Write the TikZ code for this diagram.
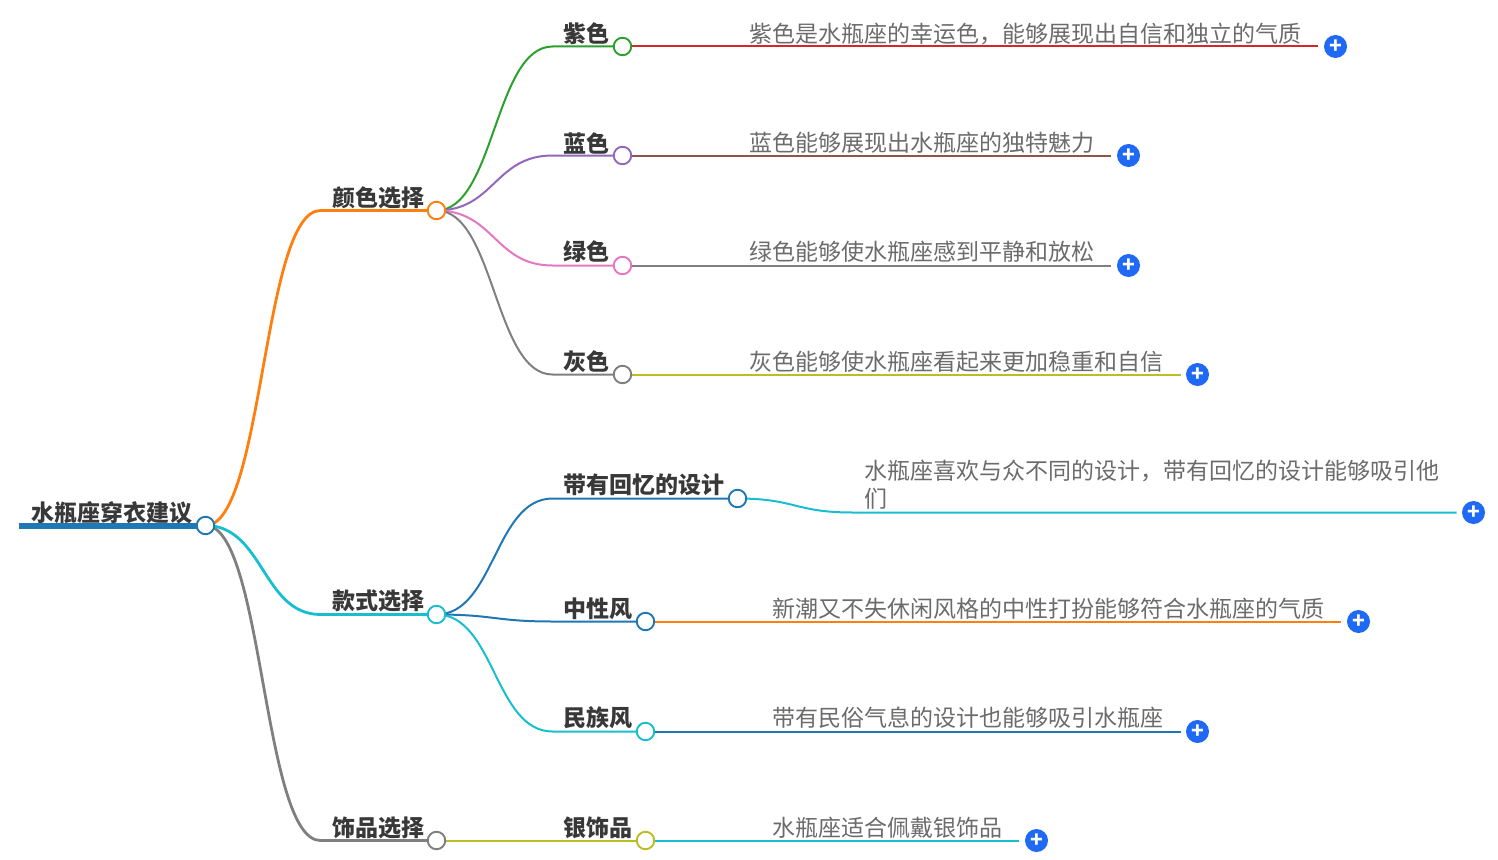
\documentclass[tikz,border=0pt]{standalone}
\usepackage{fontspec}
\setmainfont{Noto Sans CJK SC}
\definecolor{tabblue}{HTML}{1F77B4}
\definecolor{taborange}{HTML}{FF7F0E}
\definecolor{tabgreen}{HTML}{2CA02C}
\definecolor{tabred}{HTML}{D62728}
\definecolor{tabpurple}{HTML}{9467BD}
\definecolor{tabbrown}{HTML}{8C564B}
\definecolor{tabpink}{HTML}{E377C2}
\definecolor{tabgrey}{HTML}{7F7F7F}
\definecolor{tabolive}{HTML}{BCBD22}
\definecolor{tabcyan}{HTML}{17BECF}
\definecolor{plusblue}{HTML}{1F69F5}
\tikzset{
    dot/.style={draw=#1,fill=white,circle,line width=1.9pt,minimum size=17.5pt,inner sep=0pt},
    title/.style={anchor=west,inner sep=0pt,yshift=-0.6pt,font=\fontsize{23pt}{28pt}\selectfont\bfseries,text=black!78},
    detail/.style={anchor=west,inner sep=0pt,yshift=-0.6pt,align=left,font=\fontsize{23pt}{28pt}\selectfont,text=black!58},
    plus/.style={fill=plusblue,circle,minimum size=23pt,inner sep=0pt,text=white,font=\fontsize{21pt}{21pt}\selectfont\bfseries},
    bigline/.style={line width=2.8pt},
    thinline/.style={line width=2pt},
}
\begin{document}
\begin{tikzpicture}[x=1pt,y=-1pt]
        \useasboundingbox (-0.5,-0.5) rectangle (1497.5,858.5);
        %% Bends
        \coordinate (rootstart) at (18,525);
        \coordinate (colorbend) at (320,210);
        \coordinate (stylebend) at (320,614);
        \coordinate (jewelbend) at (320,840);
        \coordinate (purplebend) at (552,46);
        \coordinate (bluebend) at (552,155);
        \coordinate (greenbend) at (552,265);
        \coordinate (greybend) at (552,374);
        \coordinate (memorybend) at (552,498);
        \coordinate (neutralbend) at (552,621);
        \coordinate (folkbend) at (552,731);
        \coordinate (memorytail) at (852,512);
        %% Line ends
        \coordinate (purpleend) at (1317,46);
        \coordinate (blueend) at (1110,155);
        \coordinate (greenend) at (1110,265);
        \coordinate (greyend) at (1180,374);
        \coordinate (memoryend) at (1456,512);
        \coordinate (neutralend) at (1340,621);
        \coordinate (folkend) at (1180,731);
        \coordinate (silverend) at (1018,840);
        %% Circles
        \coordinate (rootc) at (205,525);
        \coordinate (colorc) at (436,210);
        \coordinate (stylec) at (436,614);
        \coordinate (jewelc) at (436,840);
        \coordinate (purplec) at (622,46);
        \coordinate (bluec) at (622,155);
        \coordinate (greenc) at (622,265);
        \coordinate (greyc) at (622,374);
        \coordinate (memoryc) at (737,498);
        \coordinate (neutralc) at (645,621);
        \coordinate (folkc) at (645,731);
        \coordinate (silverc) at (645,840);
        %% Root branches
        \draw[line width=6pt,tabblue] (rootstart) -- (rootc);
        \draw[bigline,taborange] (rootc) .. controls +(58,0) and +(-58,0) .. (colorbend) -- (colorc);
        \draw[bigline,tabgrey] (rootc) .. controls +(58,0) and +(-58,0) .. (jewelbend) -- (jewelc);
        \draw[bigline,tabcyan] (rootc) .. controls +(58,0) and +(-58,0) .. (stylebend) -- (stylec);
        %% Colour branches
        \draw[thinline,tabgreen] (colorc) .. controls +(58,0) and +(-58,0) .. (purplebend) -- (purplec);
        \draw[thinline,tabpurple] (colorc) .. controls +(58,0) and +(-58,0) .. (bluebend) -- (bluec);
        \draw[thinline,tabpink] (colorc) .. controls +(58,0) and +(-58,0) .. (greenbend) -- (greenc);
        \draw[thinline,tabgrey] (colorc) .. controls +(58,0) and +(-58,0) .. (greybend) -- (greyc);
        \draw[thinline,tabred] (purplec) -- (purpleend);
        \draw[thinline,tabbrown] (bluec) -- (blueend);
        \draw[thinline,tabgrey] (greenc) -- (greenend);
        \draw[thinline,tabolive] (greyc) -- (greyend);
        %% Style branches
        \draw[thinline,tabblue] (stylec) .. controls +(58,0) and +(-58,0) .. (memorybend) -- (memoryc);
        \draw[thinline,tabblue] (stylec) .. controls +(58,0) and +(-58,0) .. (neutralbend) -- (neutralc);
        \draw[thinline,tabcyan] (stylec) .. controls +(58,0) and +(-58,0) .. (folkbend) -- (folkc);
        \draw[thinline,tabcyan] (memoryc) .. controls +(58,0) and +(-58,0) .. (memorytail) -- (memoryend);
        \draw[thinline,taborange] (neutralc) -- (neutralend);
        \draw[thinline,tabblue] (folkc) -- (folkend);
        %% Jewellery branch
        \draw[thinline,tabolive] (jewelc) -- (silverc);
        \draw[thinline,tabcyan] (silverc) -- (silverend);
        %% Dots
        \node[dot=tabblue] (rootdot) at (rootc) {};
        \node[dot=taborange] (colordot) at (colorc) {};
        \node[dot=tabcyan] (styledot) at (stylec) {};
        \node[dot=tabgrey] (jeweldot) at (jewelc) {};
        \node[dot=tabgreen] (purpledot) at (purplec) {};
        \node[dot=tabpurple] (bluedot) at (bluec) {};
        \node[dot=tabpink] (greendot) at (greenc) {};
        \node[dot=tabgrey] (greydot) at (greyc) {};
        \node[dot=tabblue] (memorydot) at (memoryc) {};
        \node[dot=tabblue] (neutraldot) at (neutralc) {};
        \node[dot=tabcyan] (folkdot) at (folkc) {};
        \node[dot=tabolive] (silverdot) at (silverc) {};
        %% Titles
        \node[title] (root) at (31,512) {水瓶座穿衣建议};
        \node[title] (color) at (332,197) {颜色选择};
        \node[title] (style) at (332,600) {款式选择};
        \node[title] (jewel) at (332,827) {饰品选择};
        \node[title] (purple) at (563,33) {紫色};
        \node[title] (blue) at (563,142) {蓝色};
        \node[title] (green) at (563,251) {绿色};
        \node[title] (grey) at (563,361) {灰色};
        \node[title] (memory) at (563,484) {带有回忆的设计};
        \node[title] (neutral) at (563,608) {中性风};
        \node[title] (folk) at (563,717) {民族风};
        \node[title] (silver) at (563,827) {银饰品};
        %% Details
        \node[detail] (purpletext) at (749,33) {紫色是水瓶座的幸运色，能够展现出自信和独立的气质};
        \node[detail] (bluetext) at (749,142) {蓝色能够展现出水瓶座的独特魅力};
        \node[detail] (greentext) at (749,251) {绿色能够使水瓶座感到平静和放松};
        \node[detail] (greytext) at (749,361) {灰色能够使水瓶座看起来更加稳重和自信};
        \node[detail] (memorytext) at (864,484) {水瓶座喜欢与众不同的设计，带有回忆的设计能够吸引他\\们};
        \node[detail] (neutraltext) at (772,608) {新潮又不失休闲风格的中性打扮能够符合水瓶座的气质};
        \node[detail] (folktext) at (772,717) {带有民俗气息的设计也能够吸引水瓶座};
        \node[detail] (silvertext) at (772,827) {水瓶座适合佩戴银饰品};
        %% Plus buttons
        \node[plus] (purpleplus) at (1335,46) {+};
        \node[plus] (blueplus) at (1128,155) {+};
        \node[plus] (greenplus) at (1128,265) {+};
        \node[plus] (greyplus) at (1197,374) {+};
        \node[plus] (memoryplus) at (1473,512) {+};
        \node[plus] (neutralplus) at (1358,621) {+};
        \node[plus] (folkplus) at (1197,731) {+};
        \node[plus] (silverplus) at (1036,840) {+};
    \end{tikzpicture}
\end{document}
